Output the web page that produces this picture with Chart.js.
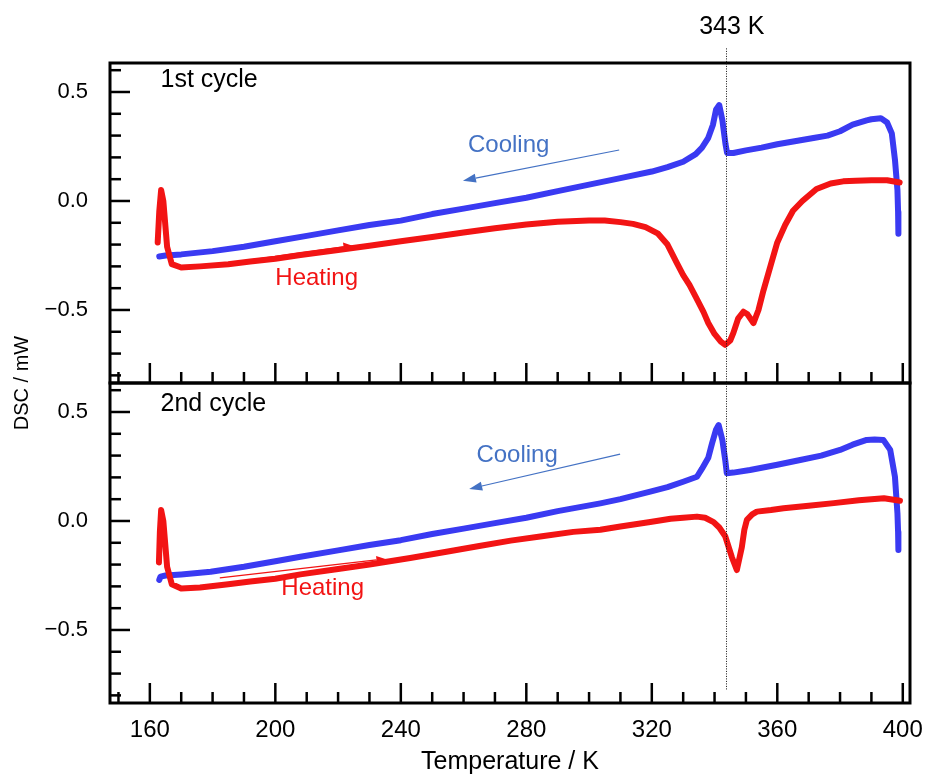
<!DOCTYPE html>
<html>
<head>
<meta charset="utf-8">
<script src="https://cdn.jsdelivr.net/npm/chart.js@4.4.1/dist/chart.umd.min.js"></script>
<style>
  html, body { margin: 0; padding: 0; background: #ffffff; }
  #wrap { width: 926px; height: 779px; position: relative; }
  canvas { display: block; }
</style>
</head>
<body>
<div id="wrap"><canvas id="c" width="926" height="779"></canvas></div>
<script>
// ---------------- data ----------------
// 1st cycle – cooling (blue)
const coolT1 = [163, 165, 170, 180, 190, 200, 210, 220, 230, 240, 250, 260, 270, 280, 290, 300, 310, 320, 325, 330, 334, 336, 338, 339.5, 340.5, 341.5, 342.5, 343.5, 344, 346, 350, 355, 360, 366, 372, 376, 380, 384, 388.5, 390, 393, 395, 396.5, 397.5, 398.3, 398.5, 398.6];
const coolDSC1 = [-0.255, -0.25, -0.245, -0.23, -0.21, -0.185, -0.16, -0.135, -0.11, -0.09, -0.06, -0.035, -0.01, 0.015, 0.045, 0.075, 0.105, 0.135, 0.155, 0.18, 0.215, 0.245, 0.29, 0.35, 0.42, 0.44, 0.37, 0.26, 0.22, 0.22, 0.232, 0.245, 0.26, 0.275, 0.29, 0.30, 0.32, 0.35, 0.37, 0.375, 0.38, 0.36, 0.31, 0.19, 0.05, -0.05, -0.15];
// 1st cycle – heating (red)
const heatT1 = [162.5, 163.0, 163.6, 164.3, 165.5, 167, 170, 176, 185, 192, 200, 208, 220, 230, 240, 250, 260, 270, 280, 290, 300, 305, 310, 314, 318, 322, 325, 328, 330, 332, 334, 336.5, 338, 340, 342, 343.4, 345, 346, 347.5, 349.2, 350.5, 352.4, 354, 355.6, 358, 360, 362.5, 365, 368, 372.5, 377, 381, 385, 390, 395, 399];
const heatDSC1 = [-0.19, -0.05, 0.05, 0.0, -0.21, -0.29, -0.305, -0.30, -0.29, -0.278, -0.265, -0.248, -0.225, -0.205, -0.185, -0.165, -0.145, -0.125, -0.108, -0.095, -0.09, -0.09, -0.097, -0.105, -0.12, -0.15, -0.2, -0.285, -0.34, -0.385, -0.44, -0.51, -0.56, -0.61, -0.645, -0.66, -0.64, -0.605, -0.54, -0.508, -0.52, -0.56, -0.5, -0.41, -0.29, -0.19, -0.11, -0.045, 0.0, 0.055, 0.08, 0.09, 0.093, 0.095, 0.095, 0.085];
// 2nd cycle – cooling (blue)
const coolT2 = [163, 163.4, 165, 170, 179.4, 190, 200, 208, 220, 230, 240, 250, 260, 270, 280, 290, 303.6, 310, 319.5, 325, 330, 334.4, 336, 338, 339.2, 340.5, 341.3, 342.5, 343.4, 343.9, 346, 351.3, 360, 367.3, 374, 380, 384, 388.5, 391, 393.8, 396, 397.5, 398.3, 398.5, 398.6];
const coolDSC2 = [-0.27, -0.255, -0.25, -0.245, -0.233, -0.21, -0.185, -0.164, -0.135, -0.11, -0.088, -0.06, -0.035, -0.01, 0.015, 0.045, 0.081, 0.1, 0.135, 0.155, 0.18, 0.203, 0.24, 0.29, 0.356, 0.42, 0.44, 0.37, 0.28, 0.219, 0.222, 0.234, 0.258, 0.28, 0.30, 0.326, 0.35, 0.372, 0.374, 0.372, 0.326, 0.203, 0.035, -0.05, -0.133];
// 2nd cycle – heating (red)
const heatT2 = [162.9, 163.2, 163.6, 164.3, 165.5, 167, 170, 176, 185, 192, 200, 208, 220, 230, 243, 255, 265, 275, 285, 295, 303.6, 310, 319.5, 326, 330, 334.4, 337, 339.7, 341.5, 343.4, 345.5, 347.1, 348.7, 349.5, 350.3, 352, 353.5, 358, 362, 370, 378, 386, 394, 399.1];
const heatDSC2 = [-0.19, -0.05, 0.05, 0.0, -0.21, -0.29, -0.31, -0.305, -0.29, -0.278, -0.265, -0.245, -0.22, -0.2, -0.17, -0.14, -0.115, -0.09, -0.07, -0.05, -0.04, -0.025, -0.005, 0.01, 0.015, 0.02, 0.015, -0.005, -0.03, -0.07, -0.165, -0.225, -0.12, -0.04, 0.005, 0.03, 0.043, 0.05, 0.058, 0.07, 0.082, 0.095, 0.104, 0.093];

// ---------------- ticks ----------------
const xTickLabels = [160, 200, 240, 280, 320, 360, 400];
const xTickMarks = [150, 160, 170, 180, 190, 200, 210, 220, 230, 240, 250, 260, 270, 280, 290, 300, 310, 320, 330, 340, 350, 360, 370, 380, 390, 400];
const yTickLabels = [-0.5, 0, 0.5];
const yTickMarks = [-0.8, -0.7, -0.6, -0.5, -0.4, -0.3, -0.2, -0.1, 0, 0.1, 0.2, 0.3, 0.4, 0.5, 0.6];
const transitionT = 343.7;

// ---------------- styling ----------------
const BLUE = '#3a3af2';
const RED = '#f21414';
const NOTE_BLUE = '#4472c4';
const FONT = '"Liberation Sans", Arial, sans-serif';

function pts(xs, ys) { return xs.map((x, i) => ({ x: x, y: ys[i] })); }

function line(ctx, x0, y0, x1, y1) {
  ctx.beginPath(); ctx.moveTo(x0, y0); ctx.lineTo(x1, y1); ctx.stroke();
}
function arrow(ctx, x0, y0, x1, y1, color, w, head, halfW) {
  ctx.save();
  ctx.strokeStyle = color; ctx.fillStyle = color; ctx.lineWidth = w;
  const a = Math.atan2(y1 - y0, x1 - x0);
  const bx = x1 - head * Math.cos(a), by = y1 - head * Math.sin(a);
  line(ctx, x0, y0, bx, by);
  ctx.beginPath();
  ctx.moveTo(x1, y1);
  ctx.lineTo(bx + halfW * Math.sin(a), by - halfW * Math.cos(a));
  ctx.lineTo(bx - halfW * Math.sin(a), by + halfW * Math.cos(a));
  ctx.closePath(); ctx.fill();
  ctx.restore();
}

const decor = {
  id: 'decor',
  beforeDatasetsDraw(chart) {
    const ctx = chart.ctx, x = chart.scales.x, yT = chart.scales.yTop;
    // heating arrow of 1st cycle (lies on the curve, only its head peeks out)
    arrow(ctx, x.getPixelForValue(182.3), yT.getPixelForValue(-0.29),
               x.getPixelForValue(224.6), yT.getPixelForValue(-0.205), RED, 1.2, 9, 4.5);
  },
  afterDatasetsDraw(chart) {
    const ctx = chart.ctx, x = chart.scales.x;
    const yT = chart.scales.yTop, yB = chart.scales.yBot;
    ctx.save();
    // frames and inward ticks
    ctx.strokeStyle = '#000'; ctx.lineCap = 'butt';
    for (const y of [yT, yB]) {
      ctx.lineWidth = 3;
      ctx.strokeRect(x.left, y.top, x.right - x.left, y.bottom - y.top);
      ctx.lineWidth = 2.5;
      yTickMarks.forEach(v => {
        const py = y.getPixelForValue(v);
        const len = yTickLabels.some(m => Math.abs(m - v) < 1e-9) ? 20 : 11;
        line(ctx, x.left, py, x.left + len, py);
      });
      xTickMarks.forEach(v => {
        const px = x.getPixelForValue(v);
        const len = xTickLabels.includes(v) ? 20 : 11;
        line(ctx, px, y.bottom, px, y.bottom - len);
      });
    }
    // dotted 343 K line
    const lx = Math.round(x.getPixelForValue(transitionT)) + 0.5;
    ctx.lineWidth = 1; ctx.strokeStyle = '#111'; ctx.setLineDash([1, 1.5]);
    line(ctx, lx, yT.getPixelForValue(0.70), lx, yB.getPixelForValue(-0.775));
    ctx.setLineDash([]);

    // texts
    ctx.textBaseline = 'alphabetic'; ctx.textAlign = 'left';
    ctx.fillStyle = '#000'; ctx.font = '25px ' + FONT;
    ctx.fillText('343 K', x.getPixelForValue(335.1), yT.getPixelForValue(0.765));
    ctx.fillText('1st cycle', x.getPixelForValue(163.4), yT.getPixelForValue(0.523));
    ctx.fillText('2nd cycle', x.getPixelForValue(163.4), yB.getPixelForValue(0.506));

    ctx.font = '24px ' + FONT;
    ctx.fillStyle = NOTE_BLUE;
    ctx.fillText('Cooling', x.getPixelForValue(261.4), yT.getPixelForValue(0.223));
    ctx.fillText('Cooling', x.getPixelForValue(264.1), yB.getPixelForValue(0.272));
    ctx.fillStyle = RED;
    ctx.fillText('Heating', x.getPixelForValue(200.0), yT.getPixelForValue(-0.385));
    ctx.fillText('Heating', x.getPixelForValue(201.9), yB.getPixelForValue(-0.339));

    // arrows
    arrow(ctx, x.getPixelForValue(309.6), yT.getPixelForValue(0.234),
               x.getPixelForValue(259.8), yT.getPixelForValue(0.093), NOTE_BLUE, 1.2, 13, 4.5);
    arrow(ctx, x.getPixelForValue(309.9), yB.getPixelForValue(0.307),
               x.getPixelForValue(261.8), yB.getPixelForValue(0.147), NOTE_BLUE, 1.2, 13, 4.5);
    arrow(ctx, x.getPixelForValue(182.3), yB.getPixelForValue(-0.261),
               x.getPixelForValue(235.1), yB.getPixelForValue(-0.174), RED, 1.2, 9, 4);

    // y-axis title
    ctx.save();
    ctx.translate(22, (yT.top + yB.bottom) / 2);
    ctx.rotate(-Math.PI / 2);
    ctx.textAlign = 'center'; ctx.textBaseline = 'middle';
    ctx.fillStyle = '#000'; ctx.font = '20px ' + FONT;
    ctx.fillText('DSC / mW', 0, 0);
    ctx.restore();
    ctx.restore();
  }
};

const fmtY = v => (v < 0 ? '\u2212' : '') + Math.abs(v).toFixed(1);
const yAxis = () => ({
  type: 'linear', position: 'left', stack: 'dsc', stackWeight: 1,
  min: -0.835, max: 0.633,
  afterBuildTicks: s => { s.ticks = yTickLabels.map(v => ({ value: v })); },
  afterFit: s => { s.width = 110; s.paddingTop = 0; s.paddingBottom = 0; },
  grid: { display: false, drawTicks: false },
  border: { display: false },
  ticks: { padding: 22, color: '#000', font: { family: FONT, size: 22 }, callback: v => fmtY(v) }
});

new Chart(document.getElementById('c'), {
  type: 'line',
  data: {
    datasets: [
      { label: 'Heating 1', data: pts(heatT1, heatDSC1), yAxisID: 'yTop', borderColor: RED },
      { label: 'Cooling 1', data: pts(coolT1, coolDSC1), yAxisID: 'yTop', borderColor: BLUE },
      { label: 'Heating 2', data: pts(heatT2, heatDSC2), yAxisID: 'yBot', borderColor: RED },
      { label: 'Cooling 2', data: pts(coolT2, coolDSC2), yAxisID: 'yBot', borderColor: BLUE }
    ]
  },
  options: {
    responsive: false, animation: false, devicePixelRatio: 1,
    layout: { padding: { top: 63, right: 16, left: 0, bottom: 0 } },
    elements: {
      line: { borderWidth: 6, tension: 0, borderJoinStyle: 'round', borderCapStyle: 'round', fill: false },
      point: { radius: 0, hoverRadius: 0 }
    },
    plugins: { legend: { display: false }, tooltip: { enabled: false } },
    scales: {
      x: {
        type: 'linear', min: 147.3, max: 402.3,
        afterBuildTicks: s => { s.ticks = xTickLabels.map(v => ({ value: v })); },
        afterFit: s => { s.height = 76; s.paddingLeft = 0; s.paddingRight = 0; },
        grid: { display: false, drawTicks: false },
        border: { display: false },
        ticks: { padding: 13, color: '#000', maxRotation: 0, font: { family: FONT, size: 24 } },
        title: { display: true, text: 'Temperature / K', color: '#000', padding: { top: 0, bottom: 2 },
                 font: { family: FONT, size: 25 } }
      },
      // stacked axes: the first one listed is placed at the bottom
      yBot: yAxis(),
      yTop: yAxis()
    }
  },
  plugins: [decor]
});
</script>
</body>
</html>
